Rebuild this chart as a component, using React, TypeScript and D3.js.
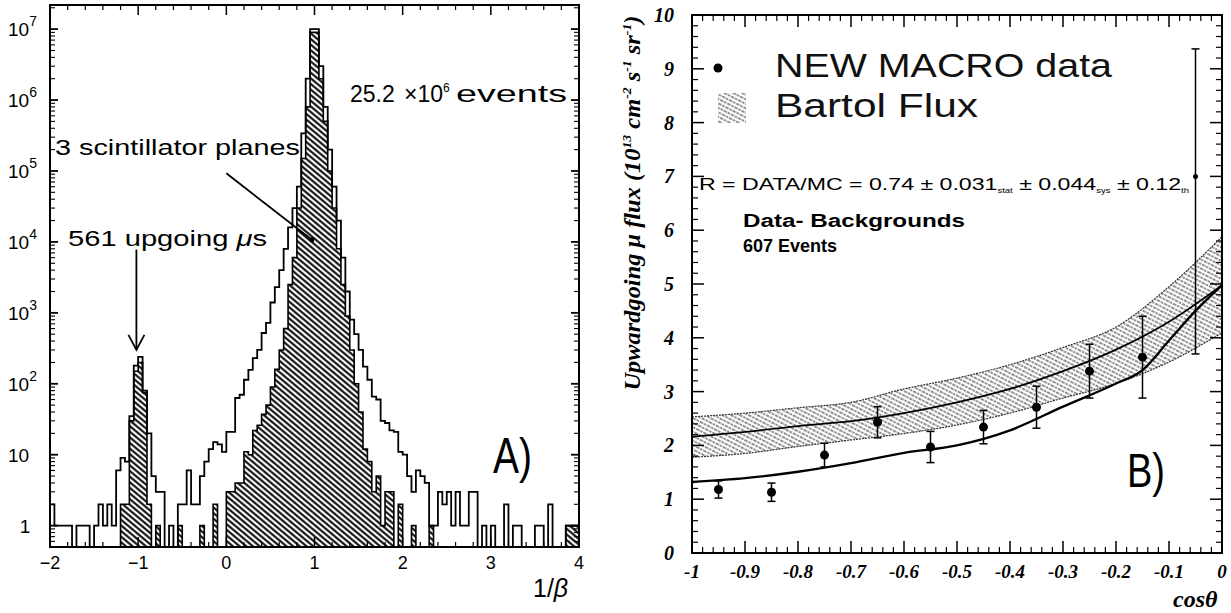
import React from 'react';
import * as d3 from 'd3';

// ---- panel A : 1/beta histogram (bins of 0.05 from -2 to 4) ----
const binStart = -2;
const binWidth = 0.05;
const allCounts = [
  2, 1, 1, 1, 1, 0, 1, 1, 1, 0, 1, 2, 1, 2, 1, 6, 9, 8, 35, 180,
  240, 80, 20, 5, 3, 3, 0, 1, 0, 2, 2, 6, 2, 2, 5, 8, 12, 15, 14, 11,
  21, 21, 63, 70, 114, 157, 230, 300, 520, 720, 1400, 2300, 4000, 8000, 16000, 30000, 60000, 340000, 2000000, 10000000,
  10000000, 3000000, 800000, 200000, 60000, 20000, 6000, 2000, 800, 500, 300, 175, 114, 66, 60, 30, 28, 22, 21, 11,
  10, 5, 3, 6, 5, 4, 1, 1, 3, 2, 3, 1, 3, 1, 1, 3, 3, 0, 1, 0,
  1, 0, 0, 2, 0, 1, 1, 0, 0, 0, 1, 1, 0, 2, 0, 0, 0, 1, 1, 1,
];
const hatchCounts = [
  0, 0, 0, 0, 0, 0, 0, 0, 0, 0, 0, 0, 0, 0, 0, 0, 2, 2, 30, 150,
  200, 75, 2, 0, 1, 0, 0, 0, 0, 1, 0, 0, 0, 0, 1, 0, 0, 2, 0, 0,
  3, 3, 4, 4, 11, 10, 22, 26, 37, 50, 90, 160, 300, 600, 2500, 6000, 30000, 150000, 800000, 9000000,
  9000000, 2000000, 500000, 100000, 30000, 8000, 2500, 900, 300, 100, 40, 12, 8, 3, 5, 1, 3, 3, 0, 2,
  0, 0, 1, 0, 0, 0, 1, 0, 0, 0, 0, 0, 0, 0, 0, 0, 0, 0, 0, 0,
  0, 0, 0, 0, 0, 0, 0, 0, 0, 0, 0, 0, 0, 0, 0, 0, 0, 1, 1, 1,
];
const xTicksA = [-2, -1, 0, 1, 2, 3, 4];
const decadesA = [1, 10, 100, 1000, 10000, 100000, 1000000, 10000000];

// annotation arrows (data units)
const upgoingArrow = { x: -1.02, from: 7800, to: 300 };
const planesArrow = { x0: 0.0, y0: 93000, x1: 0.97, y1: 10700 };

// ---- panel B : upward-going muon flux vs cos(theta) ----
const cosCenters = [-0.95, -0.85, -0.75, -0.65, -0.55, -0.45, -0.35, -0.25, -0.15, -0.05];
const fluxData = [1.18, 1.13, 1.82, 2.43, 1.97, 2.34, 2.71, 3.38, 3.64, 7.0];
const errLow = [0.16, 0.17, 0.22, 0.29, 0.29, 0.31, 0.39, 0.5, 0.76, 3.3];
const errHigh = [0.16, 0.17, 0.22, 0.29, 0.29, 0.31, 0.39, 0.5, 0.76, 2.37];

const bandCos = [-1, -0.9, -0.8, -0.7, -0.6, -0.5, -0.4, -0.3, -0.2, -0.1, 0];
const bartolUpper = [2.53, 2.6, 2.7, 2.8, 3.05, 3.25, 3.5, 3.82, 4.2, 4.95, 5.88];
const bartolCenter = [2.16, 2.25, 2.36, 2.45, 2.6, 2.8, 3.05, 3.38, 3.78, 4.3, 4.98];
const bartolLower = [1.78, 1.85, 1.98, 2.1, 2.22, 2.38, 2.6, 2.88, 3.15, 3.55, 4.09];

const fitCos = [-1, -0.9, -0.8, -0.7, -0.6, -0.5, -0.4, -0.3, -0.2, -0.15, -0.1, -0.05, 0];
const fitFlux = [1.32, 1.39, 1.51, 1.67, 1.86, 2.0, 2.28, 2.72, 3.15, 3.4, 3.95, 4.5, 4.98];

const xTicksB = ['-1', '-0.9', '-0.8', '-0.7', '-0.6', '-0.5', '-0.4', '-0.3', '-0.2', '-0.1', '0'];
const yTicksB = ['0', '1', '2', '3', '4', '5', '6', '7', '8', '9', '10'];

const sans = '"Liberation Sans", Arial, sans-serif';
const serif = '"Liberation Serif", "Times New Roman", serif';

export default function App() {
  // panel A scales
  const xA = d3.scaleLinear().domain([-2, 4]).range([50, 579]);
  const yA = d3.scaleLog().domain([0.5, Math.pow(10, 7.34)]).range([547, 5]);
  const floorA = 0.5;
  const nBins = allCounts.length;
  const binEnd = binStart + nBins * binWidth;

  const stepPoints = (counts: number[]) => {
    const pts: [number, number][] = [[binStart, floorA]];
    counts.forEach((c, i) => pts.push([binStart + i * binWidth, c > 0 ? c : floorA]));
    const last = counts[counts.length - 1];
    pts.push([binEnd, last > 0 ? last : floorA]);
    pts.push([binEnd, floorA]);
    return pts;
  };
  const stepLine = d3.line<[number, number]>()
    .x(d => xA(d[0]))
    .y(d => yA(d[1]))
    .curve(d3.curveStepAfter);
  const stepArea = d3.area<[number, number]>()
    .x(d => xA(d[0]))
    .y0(yA(floorA))
    .y1(d => yA(d[1]))
    .curve(d3.curveStepAfter);

  const minorXA = d3.range(-2, 4.001, 0.2).filter(v => Math.abs(v - Math.round(v)) > 0.01);
  const minorYA: number[] = [];
  decadesA.forEach(d => { for (let k = 2; k <= 9; k++) if (d * k < Math.pow(10, 7.34)) minorYA.push(d * k); });
  minorYA.push(0.6, 0.7, 0.8, 0.9);

  // panel B scales
  const xB = d3.scaleLinear().domain([-1, 0]).range([692, 1222]);
  const yB = d3.scaleLinear().domain([0, 10]).range([553, 15]);
  const bandArea = d3.area<number>()
    .x(i => xB(bandCos[i]))
    .y0(i => yB(bartolLower[i]))
    .y1(i => yB(bartolUpper[i]))
    .curve(d3.curveMonotoneX);
  const bandIdx = bandCos.map((_, i) => i);
  const edgeLine = (vals: number[]) => d3.line<number>()
    .x(i => xB(bandCos[i]))
    .y(i => yB(vals[i]))
    .curve(d3.curveMonotoneX)(bandIdx);
  const fitLine = d3.line<number>()
    .x(i => xB(fitCos[i]))
    .y(i => yB(fitFlux[i]))
    .curve(d3.curveMonotoneX)(fitCos.map((_, i) => i));

  const minorXB = d3.range(0, 51).map(k => -1 + k * 0.02).filter((_, k) => k % 5 !== 0);
  const minorYB = d3.range(0, 51).map(k => k * 0.2).filter((_, k) => k % 5 !== 0);

  const k = 'black';

  return (
    <div style={{ position: 'absolute', left: 0, top: 0 }}>
      <svg width={1231} height={613} style={{ display: 'block', background: 'white' }}>
        <defs>
          <pattern id="hatchA" patternUnits="userSpaceOnUse" width={8} height={4.3} patternTransform="rotate(40)">
            <line x1={0} y1={2.15} x2={8} y2={2.15} stroke={k} strokeWidth={2} />
          </pattern>
          <pattern id="hatchB" patternUnits="userSpaceOnUse" width={8} height={4} patternTransform="rotate(27)">
            <line x1={0} y1={2} x2={8} y2={2} stroke="#222" strokeWidth={1.2} strokeDasharray="2.5 1" />
          </pattern>
          <clipPath id="clipB">
            <rect x={692} y={15} width={530} height={538} />
          </clipPath>
        </defs>

        {/* ================= PANEL A ================= */}
        <path d={stepArea(stepPoints(hatchCounts)) || ''} fill="url(#hatchA)" />
        <path d={stepLine(stepPoints(hatchCounts)) || ''} fill="none" stroke={k} strokeWidth={1.6} />
        <path d={stepLine(stepPoints(allCounts)) || ''} fill="none" stroke={k} strokeWidth={1.8} />

        <rect x={50} y={5} width={529} height={542} fill="none" stroke={k} strokeWidth={2} />

        {xTicksA.map(v => (
          <g key={'xa' + v}>
            <line x1={xA(v)} x2={xA(v)} y1={547} y2={537} stroke={k} strokeWidth={1.5} />
            <line x1={xA(v)} x2={xA(v)} y1={5} y2={15} stroke={k} strokeWidth={1.5} />
            <text x={xA(v)} y={569} textAnchor="middle" fontFamily={sans} fontSize={18}>
              {v < 0 ? '\u2212' + Math.abs(v) : String(v)}
            </text>
          </g>
        ))}
        {minorXA.map(v => (
          <g key={'mxa' + v}>
            <line x1={xA(v)} x2={xA(v)} y1={547} y2={542} stroke={k} strokeWidth={1.2} />
            <line x1={xA(v)} x2={xA(v)} y1={5} y2={10} stroke={k} strokeWidth={1.2} />
          </g>
        ))}
        {decadesA.map((v, i) => (
          <g key={'ya' + v}>
            <line x1={50} x2={58} y1={yA(v)} y2={yA(v)} stroke={k} strokeWidth={1.8} />
            <line x1={579} x2={571} y1={yA(v)} y2={yA(v)} stroke={k} strokeWidth={1.8} />
            {i === 0 ? (
              <text x={25} y={yA(v) + 7} textAnchor="middle" fontFamily={sans} fontSize={19}>1</text>
            ) : i === 1 ? (
              <text x={8} y={yA(v) + 7} fontFamily={sans} fontSize={19}>10</text>
            ) : (
              <text x={8} y={yA(v) + 7} fontFamily={sans} fontSize={19}>
                10<tspan dy={-10} fontSize={14}>{i}</tspan>
              </text>
            )}
          </g>
        ))}
        {minorYA.map(v => (
          <g key={'mya' + v}>
            <line x1={50} x2={55} y1={yA(v)} y2={yA(v)} stroke={k} strokeWidth={1.1} />
            <line x1={579} x2={574} y1={yA(v)} y2={yA(v)} stroke={k} strokeWidth={1.1} />
          </g>
        ))}

        {/* annotations A */}
        <text x={350} y={102} fontFamily={sans} fontSize={23}>25.2</text>
        <text x={404} y={102} fontFamily={sans} fontSize={23}>
          {'\u00D710'}<tspan dy={-10} fontSize={12}>6</tspan>
        </text>
        <text x={456} y={102} fontFamily={sans} fontSize={23} textLength={111} lengthAdjust="spacingAndGlyphs">events</text>

        <text x={55} y={155} fontFamily={sans} fontSize={22} textLength={245} lengthAdjust="spacingAndGlyphs">
          3 scintillator planes
        </text>
        <text x={68} y={246} fontFamily={sans} fontSize={22} textLength={199} lengthAdjust="spacingAndGlyphs">
          561 upgoing <tspan fontStyle="italic">{'\u03BC'}</tspan>s
        </text>
        <line x1={xA(planesArrow.x0)} y1={yA(planesArrow.y0)} x2={xA(planesArrow.x1)} y2={yA(planesArrow.y1)}
          stroke={k} strokeWidth={1.8} />
        <circle cx={xA(planesArrow.x1)} cy={yA(planesArrow.y1)} r={2.5} fill={k} />
        <line x1={xA(upgoingArrow.x)} x2={xA(upgoingArrow.x)} y1={yA(upgoingArrow.from)} y2={yA(upgoingArrow.to)}
          stroke={k} strokeWidth={1.8} />
        <path
          d={`M${xA(upgoingArrow.x) - 8},${yA(upgoingArrow.to) - 15} L${xA(upgoingArrow.x)},${yA(upgoingArrow.to)} L${xA(upgoingArrow.x) + 8},${yA(upgoingArrow.to) - 15}`}
          fill="none" stroke={k} strokeWidth={1.8} />

        <text x={493} y={473} fontFamily={sans} fontSize={50} textLength={39} lengthAdjust="spacingAndGlyphs">A)</text>
        <text x={533} y={597} fontFamily={sans} fontSize={25}>
          1/<tspan fontStyle="italic">{'\u03B2'}</tspan>
        </text>

        {/* ================= PANEL B ================= */}
        <g clipPath="url(#clipB)">
          <path d={bandArea(bandIdx) || ''} fill="url(#hatchB)" />
          <path d={edgeLine(bartolUpper) || ''} fill="none" stroke="#333" strokeWidth={1.2} strokeDasharray="2 1" />
          <path d={edgeLine(bartolLower) || ''} fill="none" stroke="#333" strokeWidth={1.2} strokeDasharray="2 1" />
          <path d={edgeLine(bartolCenter) || ''} fill="none" stroke={k} strokeWidth={1.7} />
          <path d={fitLine || ''} fill="none" stroke={k} strokeWidth={2.3} />
        </g>

        {cosCenters.map((c, i) => (
          <g key={'pt' + i}>
            <line x1={xB(c)} x2={xB(c)} y1={yB(fluxData[i] - errLow[i])} y2={yB(fluxData[i] + errHigh[i])}
              stroke={k} strokeWidth={1.5} />
            <line x1={xB(c) - 4} x2={xB(c) + 4} y1={yB(fluxData[i] - errLow[i])} y2={yB(fluxData[i] - errLow[i])}
              stroke={k} strokeWidth={1.5} />
            <line x1={xB(c) - 4} x2={xB(c) + 4} y1={yB(fluxData[i] + errHigh[i])} y2={yB(fluxData[i] + errHigh[i])}
              stroke={k} strokeWidth={1.5} />
            <circle cx={xB(c)} cy={yB(fluxData[i])} r={i === 9 ? 2.5 : 4.5} fill={k} />
          </g>
        ))}

        <rect x={692} y={15} width={530} height={538} fill="none" stroke={k} strokeWidth={2} />

        {xTicksB.map((t, i) => {
          const v = -1 + i * 0.1;
          return (
            <g key={'xb' + t}>
              <line x1={xB(v)} x2={xB(v)} y1={553} y2={541} stroke={k} strokeWidth={1.5} />
              <line x1={xB(v)} x2={xB(v)} y1={15} y2={27} stroke={k} strokeWidth={1.5} />
              <text x={xB(v)} y={578} textAnchor="middle" fontFamily={serif} fontStyle="italic"
                fontWeight="bold" fontSize={19}>{t}</text>
            </g>
          );
        })}
        {minorXB.map(v => (
          <g key={'mxb' + v}>
            <line x1={xB(v)} x2={xB(v)} y1={553} y2={547} stroke={k} strokeWidth={1.2} />
            <line x1={xB(v)} x2={xB(v)} y1={15} y2={21} stroke={k} strokeWidth={1.2} />
          </g>
        ))}
        {yTicksB.map((t, i) => (
          <g key={'yb' + t}>
            <line x1={692} x2={704} y1={yB(i)} y2={yB(i)} stroke={k} strokeWidth={1.5} />
            <line x1={1222} x2={1210} y1={yB(i)} y2={yB(i)} stroke={k} strokeWidth={1.5} />
            <text x={674} y={yB(i) + 7} textAnchor="end" fontFamily={serif} fontStyle="italic"
              fontWeight="bold" fontSize={20}>{t}</text>
          </g>
        ))}
        {minorYB.map(v => (
          <g key={'myb' + v}>
            <line x1={692} x2={698} y1={yB(v)} y2={yB(v)} stroke={k} strokeWidth={1.2} />
            <line x1={1222} x2={1216} y1={yB(v)} y2={yB(v)} stroke={k} strokeWidth={1.2} />
          </g>
        ))}

        {/* legend */}
        <circle cx={718} cy={68} r={4.5} fill={k} />
        <rect x={718} y={93} width={28} height={30} fill="url(#hatchB)" />
        <text x={775} y={77} fontFamily={sans} fontSize={34} textLength={337} lengthAdjust="spacingAndGlyphs"
          fill="#111">NEW MACRO data</text>
        <text x={775} y={117} fontFamily={sans} fontSize={34} textLength={203} lengthAdjust="spacingAndGlyphs"
          fill="#111">Bartol Flux</text>

        <text x={699} y={190} fontFamily={sans} fontSize={17} textLength={490} lengthAdjust="spacingAndGlyphs">
          R = DATA/MC = 0.74 {'\u00B1'} 0.031<tspan dy={3} fontSize={7}>stat</tspan>
          <tspan dy={-3}> {'\u00B1'} 0.044</tspan><tspan dy={3} fontSize={7}>sys</tspan>
          <tspan dy={-3}> {'\u00B1'}  0.12</tspan><tspan dy={3} fontSize={7}>th</tspan>
        </text>

        <text x={743} y={227} fontFamily={sans} fontWeight="bold" fontSize={18} textLength={222}
          lengthAdjust="spacingAndGlyphs">Data- Backgrounds</text>
        <text x={743} y={252} fontFamily={sans} fontWeight="bold" fontSize={18}>607 Events</text>

        <text x={1127} y={487} fontFamily={sans} fontSize={48} textLength={38} lengthAdjust="spacingAndGlyphs">B)</text>

        <text transform="translate(640,203) rotate(-90)" textAnchor="middle" fontFamily={serif} fontStyle="italic"
          fontWeight="bold" fontSize={23} textLength={375} lengthAdjust="spacingAndGlyphs">
          Upwardgoing {'\u03BC'} flux (10<tspan dy={-9} fontSize={13}>13</tspan>
          <tspan dy={9}> cm</tspan><tspan dy={-9} fontSize={13}>-2</tspan>
          <tspan dy={9}> s</tspan><tspan dy={-9} fontSize={13}>-1</tspan>
          <tspan dy={9}> sr</tspan><tspan dy={-9} fontSize={13}>-1</tspan>
          <tspan dy={9}>)</tspan>
        </text>

        <text x={1173} y={607} fontFamily={serif} fontStyle="italic" fontWeight="bold" fontSize={24}>
          cos{'\u03B8'}
        </text>
      </svg>
    </div>
  );
}
